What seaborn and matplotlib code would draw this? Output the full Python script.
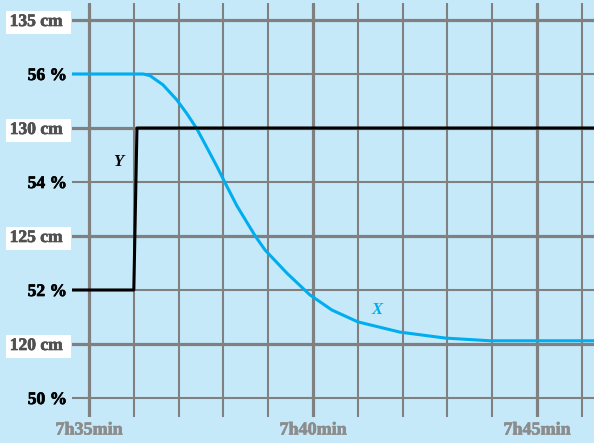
import numpy as np
import pandas as pd
import matplotlib
matplotlib.use('Agg')
import matplotlib.pyplot as plt
import matplotlib.patheffects as pe
import seaborn as sns

### level (cm) and opening (%) over time, shared grid

# time axis in minutes after 7h00
minute_ticks  = [35, 36, 37, 38, 39, 40, 41, 42, 43, 44, 45, 46]
time_labels   = ['7h35min', '7h40min', '7h45min']
label_minutes = [35, 40, 45]

# left axis : cm levels interleaved with % levels
cm_levels  = [120, 125, 130, 135]
pct_levels = [50, 52, 54, 56]

# curve X, read in %
x_time = [34.62, 36.21, 36.36, 36.65, 36.96, 37.19, 37.41, 37.63, 37.86,
          38.04, 38.30, 38.71, 38.93, 39.42, 39.93, 40.42, 41.00, 41.94,
          42.95, 43.95, 46.27]
x_pct  = [56.00, 56.00, 55.97, 55.80, 55.52, 55.26, 54.98, 54.64, 54.28,
          53.98, 53.56, 53.00, 52.74, 52.31, 51.91, 51.63, 51.41, 51.22,
          51.11, 51.06, 51.06]

# step Y, read in cm
y_time = [34.62, 36.00, 36.07, 46.27]
y_cm   = [122.5, 122.5, 130.0, 130.0]


def pct_to_cm(p):
    # 50 % sits at 117.5 cm, 2 % = 5 cm on the grid
    return 117.5 + (np.asarray(p) - 50) * 2.5


sns.set_theme(style='white')
plt.rcParams['font.family'] = ['Liberation Serif', 'DejaVu Serif']
plt.rcParams['font.weight'] = 'bold'

bg    = '#C6E9F9'
grey  = '#808080'
blue  = '#00AEEF'

fig = plt.figure(figsize=(5.94, 4.43), dpi=100)
fig.patch.set_facecolor(bg)
ax = fig.add_axes([72/594, 26/443, 522/594, 414/443])
ax.set_facecolor(bg)

df_x = pd.DataFrame({'t': x_time, 'v': pct_to_cm(x_pct)})
df_y = pd.DataFrame({'t': y_time, 'v': y_cm})

sns.lineplot(data=df_x, x='t', y='v', ax=ax, color=blue, lw=2.2, zorder=5)
sns.lineplot(data=df_y, x='t', y='v', ax=ax, color='black', lw=2.2, zorder=6)

ax.set_xlim(34.62, 35 + 505/44.8)
ax.set_ylim(120 - 73/21.6, 135 + 17/21.6)
for s in ax.spines.values():
    s.set_visible(False)

# x ticks : thick lines each 5 min, thin each minute
ax.set_xticks(label_minutes)
ax.set_xticklabels(time_labels)
ax.set_xticks([m for m in minute_ticks if m not in label_minutes], minor=True)
ax.tick_params(axis='x', which='major', length=2.2, width=2.2, color=grey,
               pad=1, labelsize=13, labelcolor='#8C8C8C')
ax.tick_params(axis='x', which='minor', length=0)
ax.grid(True, axis='x', which='major', color=grey, lw=2.3)
ax.grid(True, axis='x', which='minor', color=grey, lw=1.5)
for lab in ax.get_xticklabels():
    lab.set_fontweight('bold')
    lab.set_path_effects([pe.withStroke(linewidth=0.5, foreground='#8C8C8C')])

# y ticks : all levels on one axis
yvals   = sorted(cm_levels + list(pct_to_cm(pct_levels)))
ylabels = []
for v in yvals:
    if v in cm_levels:
        ylabels.append('%d cm ' % v)
    else:
        ylabels.append('%d %%' % round((v - 117.5) / 2.5 + 50))
ax.set_yticks(yvals)
ax.set_yticklabels(ylabels)
ax.tick_params(axis='y', length=0, pad=3.6, labelsize=12.6)
ax.grid(True, axis='y', color=grey, lw=1.5)

for v, lab, gl in zip(yvals, ax.get_yticklabels(), ax.get_ygridlines()):
    lab.set_fontweight('bold')
    if v in cm_levels:
        lab.set_color('#505050')
        lab.set_bbox(dict(boxstyle='square,pad=0.2', fc='white', ec='none'))
        lab.set_path_effects([pe.withStroke(linewidth=0.5, foreground='#505050')])
        gl.set_linewidth(2.3)
    else:
        lab.set_color('black')
        lab.set_path_effects([pe.withStroke(linewidth=0.5, foreground='black')])

ax.text(35.65, 128.43, 'Y', style='italic', fontweight='bold', fontsize=12,
        color='black', ha='center', va='center')
ax.text(41.43, 121.57, 'X', style='italic', fontweight='bold', fontsize=12,
        color=blue, ha='center', va='center')

ax.set_xlabel('')
ax.set_ylabel('')
ax.set_axisbelow(True)

fig.savefig('out.png', dpi=100, facecolor=bg)
